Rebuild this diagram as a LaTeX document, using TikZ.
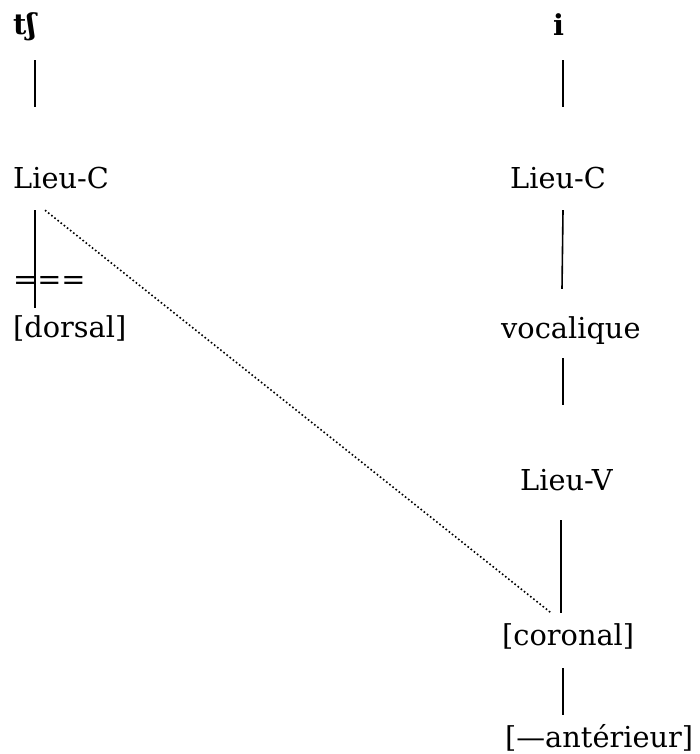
\documentclass[tikz,border=0pt]{standalone}
\usepackage{fontspec}
\setmainfont{DejaVu Serif}

\begin{document}
\begin{tikzpicture}[x=1pt,y=-1pt,
    seg/.style={inner sep=0pt,anchor=base west,text height=20pt,text depth=6pt,font=\fontsize{28.8}{32}\selectfont},
    branch/.style={line width=1.6pt},
    delink/.style={line width=1.6pt,dash pattern=on 1.6pt off 2.4pt}]
    \useasboundingbox (0,0) rectangle (700,754);

    \node[seg] (tS) at (13,35) {\textbf{tʃ}};
    \node[seg] (lieuCa) at (13,188) {Lieu-C};
    \node[seg] (cut) at (13,289) {===};
    \node[seg] (dorsal) at (13,337) {[dorsal]};

    \node[seg] (iV) at (553,36) {\textbf{i}};
    \node[seg] (lieuCb) at (510,188) {Lieu-C};
    \node[seg] (voc) at (501,338) {vocalique};
    \node[seg] (lieuV) at (520,490) {Lieu-V};
    \node[seg] (coronal) at (502,645) {[coronal]};
    \node[seg] (anter) at (505,747) {[—antérieur]};

    \draw[branch] ([shift={(22,19)}]tS.south west) -- ([shift={(22,-61)}]lieuCa.north west);
    \draw[branch] ([shift={(22,16)}]lieuCa.south west) -- ([shift={(22,-9)}]dorsal.north west);
    \draw[delink] ([shift={(32,16)}]lieuCa.south west) -- ([shift={(49,-12)}]coronal.north west);

    \draw[branch] ([shift={(10,18)}]iV.south west) -- ([shift={(53,-61)}]lieuCb.north west);
    \draw[branch] ([shift={(53,16)}]lieuCb.south west) -- ([shift={(61,-29)}]voc.north west);
    \draw[branch] ([shift={(62,14)}]voc.south west) -- ([shift={(43,-65)}]lieuV.north west);
    \draw[branch] ([shift={(41,24)}]lieuV.south west) -- ([shift={(59,-12)}]coronal.north west);
    \draw[branch] ([shift={(61,17)}]coronal.south west) -- ([shift={(58,-12)}]anter.north west);
\end{tikzpicture}
\end{document}
